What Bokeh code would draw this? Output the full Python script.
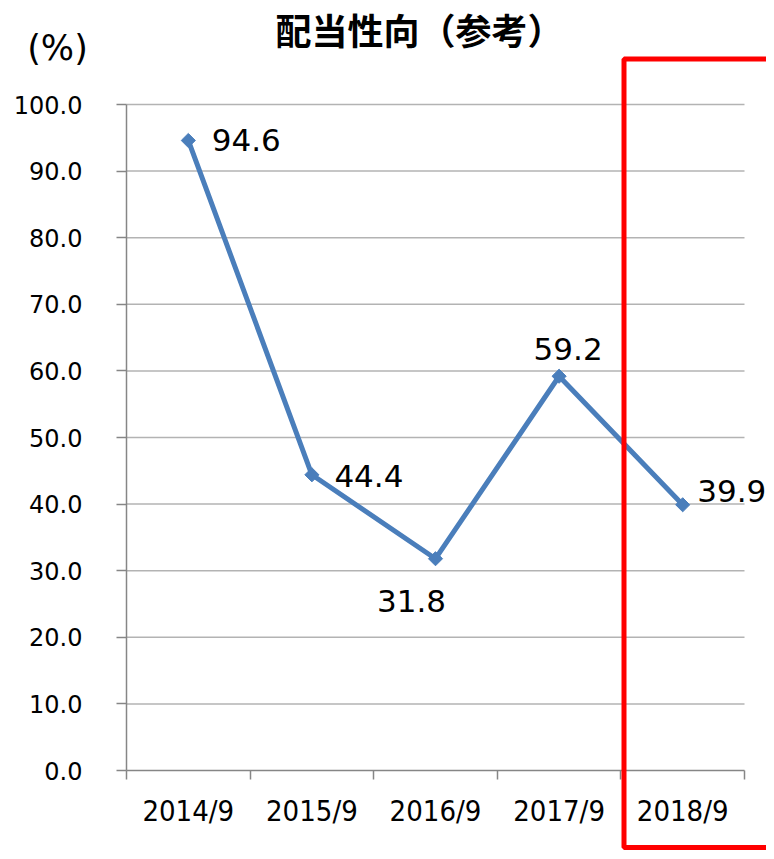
import numpy as np
from bokeh.plotting import figure
from bokeh.models import (Range1d, FixedTicker, NumeralTickFormatter, Label,
                          BoxAnnotation, ColumnDataSource, LinearAxis)
from bokeh.core.properties import value
from bokeh.embed import file_html
from bokeh.resources import INLINE

# ---- data ----
categories = ["2014/9", "2015/9", "2016/9", "2017/9", "2018/9"]
payout_ratio = [94.6, 44.4, 31.8, 59.2, 39.9]
y_ticks = [0, 10, 20, 30, 40, 50, 60, 70, 80, 90, 100]
title_text = "配当性向（参考）"
unit_text = "(%)"

# ---- layout (pixels in the page picture) ----
W, H = 766, 851
PAGE_OFF = 1
X0_PX, X1_PX = 127, 745      # plot area left / right
Y0_PX, YTOP_PX = 771, 105    # plot area bottom / top
Y_MAX = 100

n = len(categories)
sx = (X1_PX - X0_PX) / n
sy = (Y0_PX - YTOP_PX) / Y_MAX


def dx(px):
    return (px - X0_PX) / sx


def dy(px):
    return (Y0_PX - px) / sy


# ---- styles ----
label_dx = [58, 57, -24, 9, 49]
label_dy = [0, 1, 42, -27, -14]
blue = "#4A7EBB"
grid_gray = "#B3B3B3"
axis_gray = "#868686"

xs = [i + 0.5 for i in range(n)]

p = figure(width=W, height=H, output_backend="svg", toolbar_location=None,
           x_range=Range1d(dx(PAGE_OFF), dx(PAGE_OFF + W)),
           y_range=Range1d(dy(PAGE_OFF + H), dy(PAGE_OFF)),
           x_axis_location=None, y_axis_location=None, min_border=0)
p.outline_line_color = None
p.background_fill_color = "white"
p.border_fill_color = "white"
p.grid.visible = False

# horizontal grid lines
gt = [t for t in y_ticks if t > 0]
p.segment(x0=[0] * len(gt), x1=[n] * len(gt), y0=gt, y1=gt,
          line_color=grid_gray, line_width=1.5)

# x axis (fixed at y = 0)
xa = LinearAxis(fixed_location=0, bounds=(0, n))
xa.ticker = FixedTicker(ticks=xs, minor_ticks=list(range(n + 1)))
xa.major_label_overrides = {x: c for x, c in zip(xs, categories)}
xa.major_tick_out = 0
xa.major_tick_in = 0
xa.minor_tick_out = 9
xa.minor_tick_in = 0
xa.minor_tick_line_color = axis_gray
xa.minor_tick_line_width = 1.5
xa.axis_line_color = axis_gray
xa.axis_line_width = 1.5
xa.major_label_standoff = 14
xa.major_label_text_font = "DejaVu Sans Condensed"
xa.major_label_text_font_size = "29px"
xa.major_label_text_color = "black"
p.add_layout(xa, "below")

# y axis (fixed at x = 0)
ya = LinearAxis(fixed_location=0, bounds=(0, Y_MAX))
ya.ticker = FixedTicker(ticks=y_ticks)
ya.formatter = NumeralTickFormatter(format="0.0")
ya.major_tick_out = 10
ya.major_tick_in = 0
ya.minor_tick_out = 0
ya.minor_tick_in = 0
ya.major_tick_line_color = axis_gray
ya.major_tick_line_width = 1.5
ya.axis_line_color = axis_gray
ya.axis_line_width = 1.5
ya.major_label_standoff = 34
ya.major_label_text_font = "DejaVu Sans"
ya.major_label_text_font_size = "24px"
ya.major_label_text_color = "black"
p.add_layout(ya, "left")

src = ColumnDataSource(dict(x=xs, y=payout_ratio,
                            t=[f"{v:.1f}" for v in payout_ratio],
                            dx=label_dx, dy=label_dy))

p.line("x", "y", source=src, line_color=blue, line_width=5)
p.scatter("x", "y", source=src, marker="square", angle=np.pi / 4, size=10,
          fill_color=blue, line_color=blue)
p.text("x", "y", text="t", source=src, x_offset="dx", y_offset="dy",
       text_align="center", text_baseline="middle",
       text_font=value("DejaVu Sans"), text_font_size="31px", text_color="black")

# title and unit
p.add_layout(Label(x=dx(420), y=dy(29), text=title_text,
                   text_align="center", text_baseline="middle",
                   text_font="Noto Sans CJK JP", text_font_style="bold",
                   text_font_size="36px", text_color="black"))
p.add_layout(Label(x=dx(58), y=dy(48), text=unit_text,
                   text_align="center", text_baseline="middle",
                   text_font="DejaVu Sans", text_font_size="35px",
                   text_color="black"))

# red highlight box
p.add_layout(BoxAnnotation(left=dx(624.5), right=dx(800), top=dy(59.5),
                           bottom=dy(848), fill_alpha=0, line_color="#FF0000",
                           line_alpha=1, line_width=5))

open("out.html", "w").write(file_html(p, INLINE))
